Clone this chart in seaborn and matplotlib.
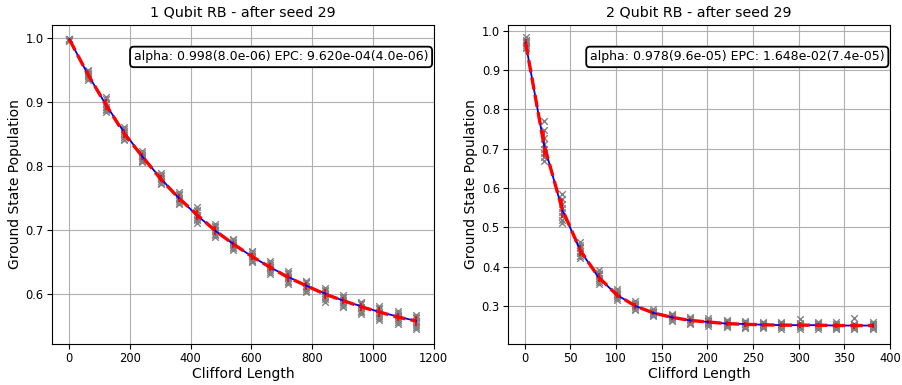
import numpy as np
import pandas as pd
import matplotlib
matplotlib.use('Agg')
import matplotlib.pyplot as plt
import seaborn as sns

# 1 qubit RB
lengths_1q = [1, 61, 121, 181, 241, 301, 361, 421, 481, 541,
              601, 661, 721, 781, 841, 901, 961, 1021, 1081, 1141]
seeds_1q = [
    [0.999, 0.998, 0.997, 0.998, 0.999, 0.997, 0.998, 0.996],
    [0.950, 0.946, 0.940, 0.937, 0.944, 0.948, 0.935, 0.942],
    [0.905, 0.899, 0.889, 0.884, 0.893, 0.908, 0.887, 0.897],
    [0.861, 0.855, 0.846, 0.840, 0.851, 0.858, 0.843, 0.849],
    [0.823, 0.818, 0.810, 0.806, 0.815, 0.821, 0.808, 0.813],
    [0.789, 0.784, 0.776, 0.772, 0.781, 0.786, 0.774, 0.779],
    [0.760, 0.754, 0.745, 0.740, 0.750, 0.757, 0.743, 0.748],
    [0.736, 0.729, 0.718, 0.711, 0.724, 0.732, 0.715, 0.721],
    [0.709, 0.704, 0.694, 0.689, 0.700, 0.707, 0.692, 0.698],
    [0.686, 0.682, 0.674, 0.669, 0.679, 0.684, 0.672, 0.677],
    [0.667, 0.662, 0.654, 0.650, 0.659, 0.665, 0.652, 0.657],
    [0.651, 0.646, 0.637, 0.632, 0.642, 0.648, 0.634, 0.640],
    [0.636, 0.631, 0.621, 0.616, 0.627, 0.633, 0.619, 0.625],
    [0.621, 0.617, 0.608, 0.603, 0.613, 0.619, 0.605, 0.611],
    [0.610, 0.605, 0.595, 0.588, 0.601, 0.607, 0.592, 0.598],
    [0.598, 0.594, 0.585, 0.580, 0.590, 0.596, 0.582, 0.588],
    [0.588, 0.584, 0.574, 0.569, 0.580, 0.586, 0.572, 0.578],
    [0.582, 0.576, 0.566, 0.560, 0.572, 0.579, 0.563, 0.570],
    [0.573, 0.568, 0.559, 0.554, 0.565, 0.570, 0.557, 0.563],
    [0.567, 0.562, 0.551, 0.545, 0.558, 0.564, 0.549, 0.556],
]
mean_1q = [0.998, 0.944, 0.896, 0.851, 0.815, 0.780, 0.750, 0.724, 0.699, 0.678,
           0.659, 0.642, 0.626, 0.613, 0.600, 0.590, 0.580, 0.572, 0.564, 0.558]
fit_1q = [0.998, 0.944, 0.896, 0.853, 0.815, 0.781, 0.750, 0.723, 0.699, 0.678,
          0.659, 0.642, 0.627, 0.613, 0.601, 0.590, 0.581, 0.572, 0.565, 0.558]
label_1q = "alpha: 0.998(8.0e-06) EPC: 9.620e-04(4.0e-06)"

# 2 qubit RB
lengths_2q = [1, 21, 41, 61, 81, 101, 121, 141, 161, 181,
              201, 221, 241, 261, 281, 301, 321, 341, 361, 381]
seeds_2q = [
    [0.985, 0.978, 0.972, 0.965, 0.960, 0.975, 0.968, 0.956],
    [0.770, 0.748, 0.728, 0.712, 0.700, 0.690, 0.678, 0.668],
    [0.585, 0.572, 0.560, 0.550, 0.540, 0.530, 0.518, 0.512],
    [0.462, 0.455, 0.447, 0.440, 0.434, 0.428, 0.422, 0.450],
    [0.392, 0.385, 0.378, 0.372, 0.366, 0.360, 0.356, 0.381],
    [0.342, 0.337, 0.332, 0.328, 0.324, 0.320, 0.316, 0.330],
    [0.312, 0.308, 0.303, 0.300, 0.296, 0.292, 0.289, 0.305],
    [0.292, 0.288, 0.284, 0.282, 0.279, 0.276, 0.273, 0.285],
    [0.280, 0.277, 0.273, 0.271, 0.268, 0.265, 0.262, 0.274],
    [0.272, 0.268, 0.265, 0.263, 0.260, 0.257, 0.254, 0.266],
    [0.268, 0.264, 0.261, 0.259, 0.256, 0.253, 0.250, 0.262],
    [0.265, 0.261, 0.257, 0.255, 0.252, 0.249, 0.246, 0.258],
    [0.262, 0.258, 0.255, 0.253, 0.250, 0.247, 0.244, 0.256],
    [0.260, 0.257, 0.254, 0.252, 0.249, 0.246, 0.243, 0.255],
    [0.260, 0.256, 0.253, 0.251, 0.248, 0.245, 0.242, 0.254],
    [0.266, 0.256, 0.253, 0.251, 0.248, 0.245, 0.241, 0.254],
    [0.260, 0.256, 0.253, 0.251, 0.248, 0.245, 0.242, 0.254],
    [0.259, 0.255, 0.252, 0.250, 0.247, 0.244, 0.240, 0.253],
    [0.268, 0.255, 0.252, 0.250, 0.247, 0.244, 0.242, 0.253],
    [0.259, 0.255, 0.252, 0.250, 0.247, 0.244, 0.241, 0.253],
]
mean_2q = [0.970, 0.712, 0.547, 0.441, 0.373, 0.328, 0.300, 0.282, 0.271, 0.263,
           0.259, 0.255, 0.253, 0.252, 0.251, 0.251, 0.251, 0.250, 0.250, 0.250]
fit_2q = [0.970, 0.712, 0.546, 0.440, 0.372, 0.328, 0.300, 0.282, 0.271, 0.263,
          0.259, 0.255, 0.254, 0.252, 0.251, 0.251, 0.251, 0.250, 0.250, 0.250]
label_2q = "alpha: 0.978(9.6e-05) EPC: 1.648e-02(7.4e-05)"

titles = ["1 Qubit RB - after seed 29", "2 Qubit RB - after seed 29"]


def plot_rb(ax, lengths, seeds, mean, fit, label, title):
    # 시드별 데이터 (long form)
    rows = []
    for L, vals in zip(lengths, seeds):
        for v in vals:
            rows.append({'length': L, 'pop': v})
    df = pd.DataFrame(rows)
    sns.scatterplot(data=df, x='length', y='pop', ax=ax, color='gray',
                    marker='x', s=22, linewidth=1.0, zorder=2, legend=False)
    std = np.array([np.std(v) for v in seeds])
    ax.errorbar(lengths, mean, yerr=std, color='red', linestyle='none', linewidth=1.2, zorder=3)
    sns.lineplot(x=lengths, y=fit, ax=ax, color='blue', linewidth=1.3, zorder=3)
    sns.lineplot(x=lengths, y=mean, ax=ax, color='red', linestyle='--', linewidth=2.4, zorder=4)

    ax.tick_params(labelsize=8.3, pad=2.5)
    ax.set_xlabel('Clifford Length', fontsize=10, labelpad=1.5)
    ax.set_ylabel('Ground State Population', fontsize=10, labelpad=2.5)
    ax.set_title(title, fontsize=10.3)
    ax.grid(True, color='#b0b0b0', linewidth=0.8)
    bbox_props = dict(boxstyle="round,pad=0.3", fc="white", ec="black", lw=1.3)
    ax.text(0.6, 0.9, label, ha="center", va="center", size=9,
            bbox=bbox_props, transform=ax.transAxes)


fig, axes = plt.subplots(1, 2, figsize=(9.03, 3.85), dpi=100)
plot_rb(axes[0], lengths_1q, seeds_1q, mean_1q, fit_1q, label_1q, titles[0])
plot_rb(axes[1], lengths_2q, seeds_2q, mean_2q, fit_2q, label_2q, titles[1])
axes[0].set_xticks([0, 200, 400, 600, 800, 1000, 1200])
axes[1].set_xticks([0, 50, 100, 150, 200, 250, 300, 350, 400])
axes[0].set_xlim(-56, 1200)
axes[1].set_xlim(-18, 400)
axes[0].set_ylim(0.522, 1.0203)
axes[1].set_ylim(0.203, 1.015)

plt.subplots_adjust(left=0.0576, right=0.9856, bottom=0.1065, top=0.935, wspace=0.195)
fig.savefig('out.png', dpi=100)
